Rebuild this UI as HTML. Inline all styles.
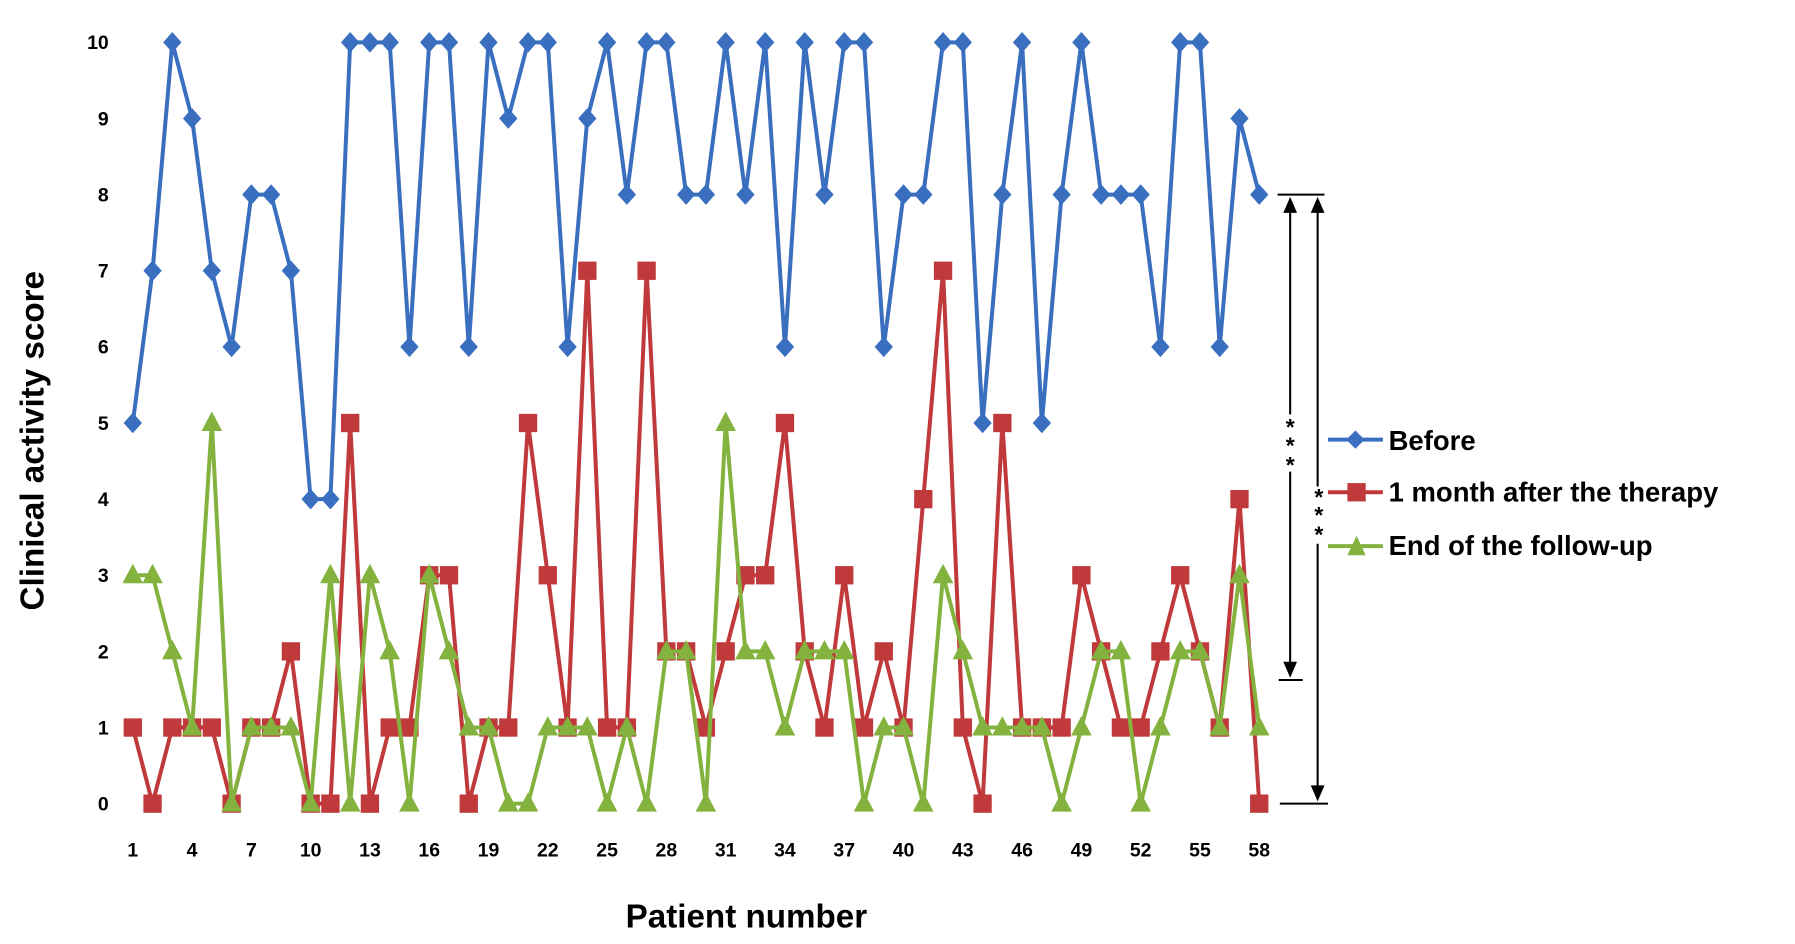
<!DOCTYPE html>
<html><head><meta charset="utf-8"><style>
html,body{margin:0;padding:0;background:#fff;}
svg{display:block;font-family:"Liberation Sans",Arial,sans-serif;}
</style></head><body>
<svg id="chart" width="1795" height="944" viewBox="0 0 1568 824.6" preserveAspectRatio="none" xmlns="http://www.w3.org/2000/svg">
<g id="axes"></g><g id="series"></g>
<text x="652" y="810" font-size="29" font-weight="bold" text-anchor="middle">Patient number</text>
<text transform="translate(38,385) rotate(-90)" font-size="29" font-weight="bold" text-anchor="middle">Clinical activity score</text>
<g stroke="#000" stroke-width="1.8" fill="#000">
<line x1="1116" y1="170" x2="1157" y2="170"/>
<line x1="1117" y1="594" x2="1138" y2="594"/>
<line x1="1118" y1="702" x2="1160" y2="702"/>
<line x1="1127" y1="180" x2="1127" y2="362"/><line x1="1127" y1="412" x2="1127" y2="584"/>
<line x1="1151" y1="180" x2="1151" y2="425"/><line x1="1151" y1="475" x2="1151" y2="692"/>
<polygon points="1127,172 1121,186 1133,186" stroke="none"/>
<polygon points="1127,592 1121,578 1133,578" stroke="none"/>
<polygon points="1151,172 1145,186 1157,186" stroke="none"/>
<polygon points="1151,700 1145,686 1157,686" stroke="none"/>
</g>
<g font-size="20" font-weight="bold" text-anchor="middle">
<text x="1127" y="380">*</text><text x="1127" y="396">*</text><text x="1127" y="413">*</text>
<text x="1152" y="441">*</text><text x="1152" y="457">*</text><text x="1152" y="474">*</text>
</g>
<g font-size="24" font-weight="bold">
<g>
<line x1="1160" y1="384" x2="1208" y2="384" stroke="#3a6fc0" stroke-width="3.5"/>
<polygon points="1184,376 1192,384 1184,392 1176,384" fill="#3a6fc0"/>
<text x="1213" y="393">Before</text></g>
<g>
<line x1="1160" y1="430" x2="1208" y2="430" stroke="#c0393b" stroke-width="3.5"/>
<rect x="1177" y="422" width="16" height="16" fill="#c0393b"/>
<text x="1213" y="438">1 month after the therapy</text></g>
<g>
<line x1="1160" y1="477" x2="1208" y2="477" stroke="#84b23f" stroke-width="3.5"/>
<polygon points="1185,468 1193,485 1177,485" fill="#84b23f"/>
<text x="1213" y="485">End of the follow-up</text></g>
</g>
</svg>
<script>
const patients = Array.from({length:58},(_,i)=>i+1);
const before = [5,7,10,9,7,6,8,8,7,4,4,10,10,10,6,10,10,6,10,9,10,10,6,9,10,8,10,10,8,8,10,8,10,6,10,8,10,10,6,8,8,10,10,5,8,10,5,8,10,8,8,8,6,10,10,6,9,8];
const oneMonth = [1,0,1,1,1,0,1,1,2,0,0,5,0,1,1,3,3,0,1,1,5,3,1,7,1,1,7,2,2,1,2,3,3,5,2,1,3,1,2,1,4,7,1,0,5,1,1,1,3,2,1,1,2,3,2,1,4,0];
const endFollow = [3,3,2,1,5,0,1,1,1,0,3,0,3,2,0,3,2,1,1,0,0,1,1,1,0,1,0,2,2,0,5,2,2,1,2,2,2,0,1,1,0,3,2,1,1,1,1,0,1,2,2,0,1,2,2,1,3,1];
const yTicks = [0,1,2,3,4,5,6,7,8,9,10];
const xTicks = [1,4,7,10,13,16,19,22,25,28,31,34,37,40,43,46,49,52,55,58];
const NS="http://www.w3.org/2000/svg";
const X = p => 116 + (p-1)*(1100-116)/57;
const Y = v => 702 - v*(702-37)/10;
function mk(tag, attrs, parent){const e=document.createElementNS(NS,tag);for(const k in attrs)e.setAttribute(k,attrs[k]);parent.appendChild(e);return e;}
const axes=document.getElementById('axes'), ser=document.getElementById('series');
yTicks.forEach(t=>{const e=mk('text',{x:95,y:Y(t)+6,'font-size':17,'font-weight':'bold','text-anchor':'end'},axes);e.textContent=t;

});
xTicks.forEach(t=>{const e=mk('text',{x:X(t),y:748,'font-size':17,'font-weight':'bold','text-anchor':'middle'},axes);e.textContent=t;

});
function draw(vals,color,shape,name){
  const g=mk('g',{},ser);
  
  
  const pl=mk('polyline',{points:vals.map((v,i)=>X(patients[i])+','+Y(v)).join(' '),fill:'none',stroke:color,'stroke-width':3.5,'stroke-linejoin':'round'},g);
  
  
  vals.forEach((v,i)=>{const x=X(patients[i]),y=Y(v);let m;
    if(shape==='d')m=mk('polygon',{points:`${x},${y-9} ${x+8},${y} ${x},${y+9} ${x-8},${y}`,fill:color},g);
    else if(shape==='s')m=mk('rect',{x:x-8,y:y-8,width:16,height:16,fill:color},g);
    else m=mk('polygon',{points:`${x},${y-10} ${x+9},${y+7} ${x-9},${y+7}`,fill:color},g);
    
    });
}
draw(before,'#3a6fc0','d','before');
draw(oneMonth,'#c0393b','s','one-month');
draw(endFollow,'#84b23f','t','end-follow-up');
</script>
</body></html>
